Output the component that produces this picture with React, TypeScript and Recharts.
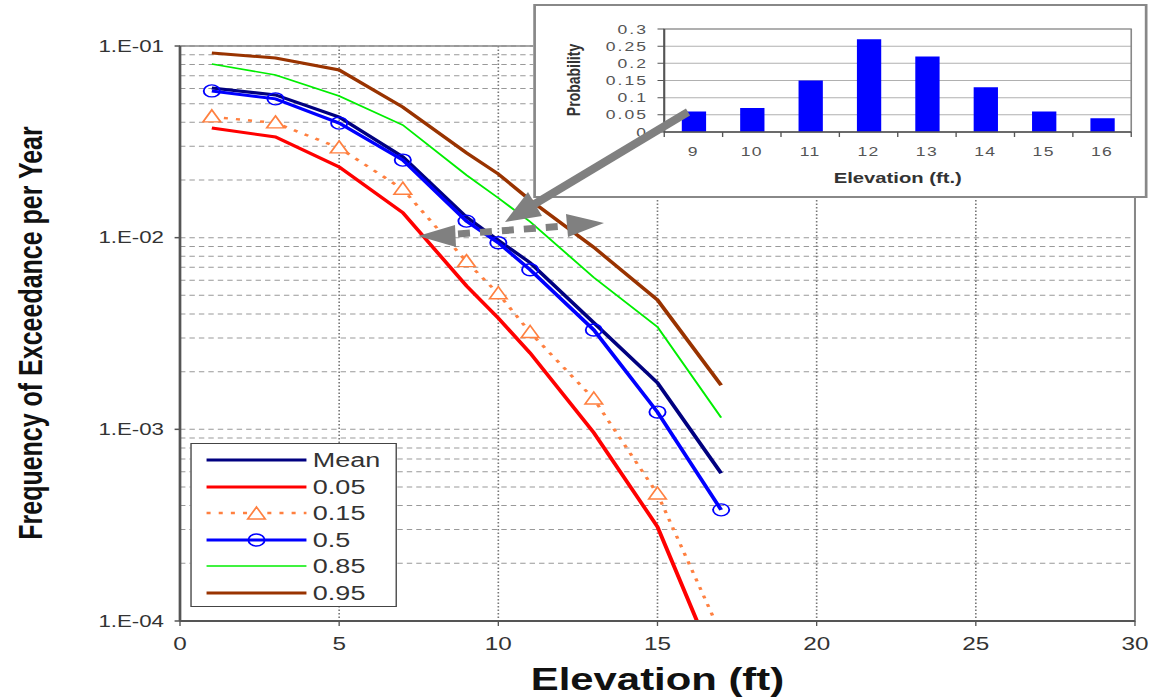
import React from "react";
import {
  Bar,
  BarChart,
  CartesianGrid,
  Legend,
  Line,
  LineChart,
  ReferenceArea,
  XAxis,
  YAxis,
} from "recharts";

// The reference picture is stretched sideways, so everything is laid out
// in a narrower box and widened with a CSS scaleX.
const SX = 1.35;
const W = 1156;
const H = 698;
const DW = W / SX;
const d = (x: number) => x / SX;

const FONT = "'Liberation Sans', Arial, Helvetica, sans-serif";

// main chart data
const ELEVATION = [1, 3, 5, 7, 9, 10, 11, 13, 15, 17];
const MEAN = [0.0604, 0.0555, 0.0426, 0.0264, 0.0128, 0.0097, 0.0074, 0.0036, 0.00175, 0.00059];
const P05 = [0.0373, 0.0335, 0.0234, 0.0135, 0.0056, 0.0038, 0.0025, 0.00096, 0.00031, 0.00005];
const P15 = [0.0427, 0.0397, 0.0294, 0.0179, 0.0075, 0.0051, 0.0032, 0.00144, 0.00046, 0.000085];
const P50 = [0.0583, 0.053, 0.0396, 0.0254, 0.0122, 0.0094, 0.0068, 0.0033, 0.00123, 0.00038];
const P85 = [0.0805, 0.0706, 0.0548, 0.0387, 0.0212, 0.0161, 0.0121, 0.0062, 0.00342, 0.00115];
const P95 = [0.092, 0.0866, 0.075, 0.048, 0.0277, 0.0215, 0.0157, 0.0089, 0.00473, 0.0017];

const X_TICKS = [0, 5, 10, 15, 20, 25, 30];
const DECADES = [1e-4, 1e-3, 1e-2, 1e-1];
const DECADE_LABELS = ["1.E-04", "1.E-03", "1.E-02", "1.E-01"];
const MINOR_STEPS = [2, 3, 4, 5, 6, 7, 8, 9];

// inset data
const BAR_ELEVATION = ["9", "10", "11", "12", "13", "14", "15", "16"];
const PROBABILITY = [0.06, 0.07, 0.15, 0.27, 0.22, 0.13, 0.06, 0.04];
const PROB_TICKS = [0, 0.05, 0.1, 0.15, 0.2, 0.25, 0.3];

const SERIES = [
  { key: "mean", name: "Mean", color: "#000080", width: 3 },
  { key: "p05", name: "0.05", color: "#ff0000", width: 3 },
  { key: "p15", name: "0.15", color: "#ff8040", width: 2.5, dash: "3 6", marker: "triangle" },
  { key: "p50", name: "0.5", color: "#0000ff", width: 3, marker: "circle" },
  { key: "p85", name: "0.85", color: "#00ee00", width: 1.6 },
  { key: "p95", name: "0.95", color: "#993300", width: 3 },
];

const data = ELEVATION.map((x, i) => ({
  x,
  mean: MEAN[i],
  p05: P05[i],
  p15: P15[i],
  p50: P50[i],
  p85: P85[i],
  p95: P95[i],
}));

const yGridTicks = DECADES.flatMap((v, i) =>
  i < DECADES.length - 1 ? [v, ...MINOR_STEPS.map((m) => m * v)] : [v]
);

const barData = BAR_ELEVATION.map((e, i) => ({ e, p: PROBABILITY[i] }));

// layout (design units, before the stretch)
const PLOT_LEFT = d(180);
const PLOT_RIGHT = d(1135);
const INSET_LEFT = d(533);
const INSET_TOP = 4;
const INSET_W = d(1148) - d(533);
const INSET_H = 194;
const INSET_Y_W = d(664) - d(533);
const INSET_RIGHT = INSET_W - (d(1131) - d(533));
const INSET_BAND = (INSET_W - INSET_Y_W - INSET_RIGHT) / BAR_ELEVATION.length;

function triangle(cx: number, cy: number, color: string, key?: any) {
  return (
    <path
      key={key}
      d={`M${cx},${cy - 7} L${cx + 6.5},${cy + 5} L${cx - 6.5},${cy + 5} Z`}
      fill="#fff"
      stroke={color}
      strokeWidth={1.4}
    />
  );
}

function circle(cx: number, cy: number, color: string, key?: any) {
  return <circle key={key} cx={cx} cy={cy} r={6} fill="none" stroke={color} strokeWidth={1.4} />;
}

function YTick(props: any) {
  const { y, payload } = props;
  const i = DECADES.findIndex((v) => Math.abs(v - payload.value) < v * 1e-6);
  if (i < 0) return <g />;
  return (
    <g>
      <line x1={PLOT_LEFT - 4} x2={PLOT_LEFT} y1={y} y2={y} stroke="#555" strokeWidth={1.5} />
      <text
        x={d(164)}
        y={y}
        dy="0.35em"
        textAnchor="end"
        fontSize={16.5}
        fill="#333"
        fontFamily={FONT}
      >
        {DECADE_LABELS[i]}
      </text>
    </g>
  );
}

function YTitle() {
  const cx = d(30);
  const cy = 333;
  return (
    <text
      x={cx}
      y={cy}
      dy="0.35em"
      transform={`rotate(-90 ${cx} ${cy})`}
      textAnchor="middle"
      fontSize={25}
      fontWeight="bold"
      fill="#111"
      fontFamily={FONT}
    >
      Frequency of Exceedance per Year
    </text>
  );
}

function XTitle() {
  return (
    <text
      x={(PLOT_LEFT + PLOT_RIGHT) / 2}
      y={690}
      textAnchor="middle"
      fontSize={31}
      fontWeight="bold"
      fill="#111"
      fontFamily={FONT}
    >
      Elevation (ft)
    </text>
  );
}

function LegendBox() {
  return (
    <div
      style={{
        width: d(397) - d(190),
        height: 164,
        border: "1.5px solid #444",
        boxSizing: "border-box",
        background: "#fff",
        paddingTop: 3,
        fontFamily: FONT,
      }}
    >
      {SERIES.map((s) => (
        <div key={s.key} style={{ display: "flex", alignItems: "center", height: 26.5 }}>
          <svg width={90} height={20} style={{ flex: "none" }}>
            <line
              x1={11}
              x2={85}
              y1={10}
              y2={10}
              stroke={s.color}
              strokeWidth={s.width}
              strokeDasharray={s.dash}
            />
            {s.marker === "triangle" && triangle(48, 11, s.color)}
            {s.marker === "circle" && circle(48, 10, s.color)}
          </svg>
          <span style={{ fontSize: 20, color: "#333", lineHeight: 1 }}>{s.name}</span>
        </div>
      ))}
    </div>
  );
}

function MainChart() {
  return (
    <LineChart
      width={DW}
      height={H}
      data={data}
      margin={{ top: 46, right: DW - PLOT_RIGHT, bottom: 27, left: 0 }}
    >
      <CartesianGrid vertical={false} stroke="#999" strokeDasharray="4 3" />
      <CartesianGrid horizontal={false} stroke="#777" strokeWidth={1.2} strokeDasharray="1.5 2" />
      <XAxis
        type="number"
        dataKey="x"
        domain={[0, 30]}
        ticks={X_TICKS}
        interval={0}
        allowDataOverflow
        height={50}
        tickSize={5}
        tickMargin={11}
        axisLine={{ stroke: "#555", strokeWidth: 2 }}
        tickLine={{ stroke: "#555" }}
        tick={{ fontSize: 18, fill: "#333", fontFamily: FONT }}
        label={<XTitle />}
      />
      <YAxis
        scale="log"
        domain={[1e-4, 1e-1]}
        ticks={yGridTicks}
        interval={0}
        allowDataOverflow
        width={PLOT_LEFT}
        tickSize={5}
        tickMargin={7}
        tickLine={false}
        axisLine={{ stroke: "#555", strokeWidth: 2 }}
        tick={<YTick />}
        label={<YTitle />}
      />
      <ReferenceArea x1={0} x2={30} y1={1e-4} y2={1e-1} fill="none" fillOpacity={0} stroke="#888" strokeWidth={1.5} />
      {SERIES.map((s) => (
        <Line
          key={s.key}
          type="linear"
          dataKey={s.key}
          name={s.name}
          stroke={s.color}
          strokeWidth={s.width}
          strokeDasharray={s.dash}
          dot={
            s.marker === "triangle"
              ? (p: any) => triangle(p.cx, p.cy, s.color, p.index)
              : s.marker === "circle"
              ? (p: any) => circle(p.cx, p.cy, s.color, p.index)
              : false
          }
          activeDot={false}
          isAnimationActive={false}
        />
      ))}
      <Legend
        verticalAlign="middle"
        align="center"
        content={() => <LegendBox />}
        wrapperStyle={{ left: d(190), top: 443, width: d(397) - d(190), height: 164 }}
      />
    </LineChart>
  );
}

function InsetXTick(props: any) {
  const { x, y, payload, index } = props;
  return (
    <g>
      <line x1={x - INSET_BAND / 2} x2={x - INSET_BAND / 2} y1={y} y2={y + 5} stroke="#555" />
      {index === BAR_ELEVATION.length - 1 && (
        <line x1={x + INSET_BAND / 2} x2={x + INSET_BAND / 2} y1={y} y2={y + 5} stroke="#555" />
      )}
      <text
        x={x}
        y={y + 19}
        dy="0.35em"
        textAnchor="middle"
        fontSize={13}
        letterSpacing={1}
        fill="#555"
        fontFamily={FONT}
      >
        {payload.value}
      </text>
    </g>
  );
}

function InsetYTitle() {
  const cx = d(573) - INSET_LEFT;
  const cy = 76;
  return (
    <text
      x={cx}
      y={cy}
      dy="0.35em"
      transform={`rotate(-90 ${cx} ${cy})`}
      textAnchor="middle"
      fontSize={14}
      fontWeight="bold"
      fill="#333"
      fontFamily={FONT}
    >
      Probability
    </text>
  );
}

function InsetXTitle() {
  return (
    <text
      x={INSET_Y_W + (INSET_W - INSET_Y_W - INSET_RIGHT) / 2}
      y={179}
      textAnchor="middle"
      fontSize={15}
      fontWeight="bold"
      fill="#333"
      fontFamily={FONT}
    >
      Elevation (ft.)
    </text>
  );
}

function InsetChart() {
  return (
    <BarChart
      width={INSET_W}
      height={INSET_H}
      data={barData}
      margin={{ top: 25, right: INSET_RIGHT, bottom: 26, left: 0 }}
      barSize={18}
    >
      <CartesianGrid vertical={false} stroke="#b0b0b0" />
      <XAxis
        dataKey="e"
        height={40}
        interval={0}
        tickSize={0}
        tickMargin={0}
        tickLine={false}
        axisLine={{ stroke: "#555", strokeWidth: 1.5 }}
        tick={<InsetXTick />}
        label={<InsetXTitle />}
      />
      <YAxis
        width={INSET_Y_W}
        domain={[0, 0.3]}
        ticks={PROB_TICKS}
        interval={0}
        tickSize={5}
        tickMargin={7}
        axisLine={{ stroke: "#555", strokeWidth: 1.5 }}
        tickLine={{ stroke: "#555" }}
        tick={{ fontSize: 13, fill: "#555", fontFamily: FONT, letterSpacing: 1.5 }}
        label={<InsetYTitle />}
      />
      <ReferenceArea y1={0} y2={0.3} fill="none" fillOpacity={0} stroke="#888" strokeWidth={1.2} />
      <Bar dataKey="p" fill="#0000ff" isAnimationActive={false} />
    </BarChart>
  );
}

export default function App() {
  return (
    <div
      style={{
        position: "absolute",
        left: 0,
        top: 0,
        width: W,
        height: H,
        overflow: "hidden",
        background: "#fff",
      }}
    >
      <div
        style={{
          position: "absolute",
          left: 0,
          top: 0,
          width: DW,
          height: H,
          transform: `scaleX(${SX})`,
          transformOrigin: "0 0",
        }}
      >
        <MainChart />
        <div
          style={{
            position: "absolute",
            left: INSET_LEFT,
            top: INSET_TOP,
            width: INSET_W,
            height: INSET_H,
            background: "#fff",
            border: "2px solid #888",
            boxSizing: "border-box",
          }}
        >
          <div style={{ position: "absolute", left: -2, top: -2 }}>
            <InsetChart />
          </div>
        </div>
      </div>
      {/* annotation arrows, drawn in page pixels */}
      <svg
        width={W}
        height={H}
        style={{ position: "absolute", left: 0, top: 0, pointerEvents: "none" }}
      >
        <line x1={688} y1={112} x2={533} y2={205} stroke="#808080" strokeWidth={8} />
        <polygon points="505,222 542,216 528,192" fill="#808080" />
        <polygon points="418,236 455,225 456,247" fill="#808080" />
        <line x1={458} y1={234} x2={566} y2={226} stroke="#808080" strokeWidth={7} strokeDasharray="12 10" />
        <polygon points="604,223 566,214 568,237" fill="#808080" />
      </svg>
    </div>
  );
}
